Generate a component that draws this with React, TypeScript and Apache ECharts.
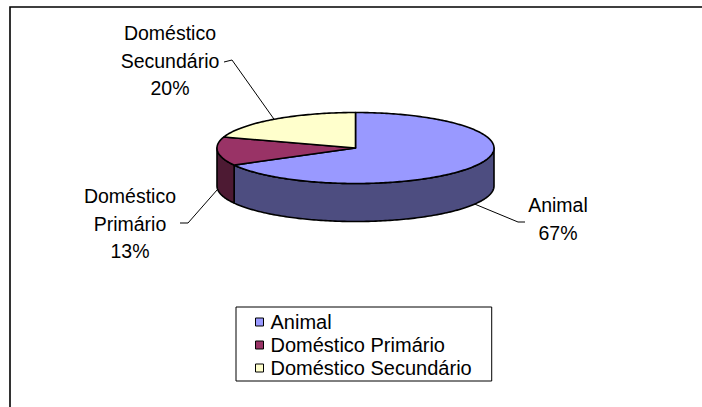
import React, { useEffect, useRef } from "react";
import * as echarts from "echarts";

const categories = ["Animal", "Doméstico Primário", "Doméstico Secundário"];
const values = [67, 13, 20];
const topColors = ["#9999FF", "#993366", "#FFFFCC"];
const sideColors = ["#4D4D80", "#4D1A33", "#80806A"];

const FONT = "'Liberation Sans', Arial, Helvetica, sans-serif";

// pie geometry (layout)
const PIE = { cx: 355.5, cy: 148, rx: 138.5, ry: 35.5, depth: 38 };

// label layouts (layout only)
const LABEL_LAYOUT = [
  { x: 558, y: 205, path: [[518, 222], [525, 222]] },
  { x: 130, y: 196, path: [[188, 223], [180, 223]] },
  { x: 170, y: 33, path: [[232, 60], [224, 62]] },
];

const total = values.reduce((a, b) => a + b, 0);

function pt(tDeg: number, dy = 0): number[] {
  const t = (tDeg * Math.PI) / 180;
  return [PIE.cx + PIE.rx * Math.sin(t), PIE.cy - PIE.ry * Math.cos(t) + dy];
}

function arcPts(a: number, b: number, dy = 0): number[][] {
  const out: number[][] = [];
  const n = Math.max(2, Math.ceil(Math.abs(b - a)));
  for (let i = 0; i <= n; i++) out.push(pt(a + ((b - a) * i) / n, dy));
  return out;
}

function makeRender(idx: number) {
  return (params: any, api: any) => {
    const v = api.value(0);
    let start = 0;
    for (let i = 0; i < idx; i++) start += values[i];
    const a = (start / total) * 360;
    const b = ((start + v) / total) * 360;
    const children: any[] = [];
    // wall (front-facing part)
    const wa = Math.max(a, 90);
    const wb = Math.min(b, 270);
    if (wb > wa) {
      const pts = arcPts(wa, wb).concat(arcPts(wb, wa, PIE.depth));
      children.push({
        type: "polygon",
        shape: { points: pts },
        style: { fill: sideColors[idx], stroke: "#000", lineWidth: 1.6, lineJoin: "round" },
      });
    }
    // top face
    children.push({
      type: "polygon",
      shape: { points: [[PIE.cx, PIE.cy]].concat(arcPts(a, b)) },
      style: { fill: topColors[idx], stroke: "#000", lineWidth: 1.6, lineJoin: "round" },
    });
    // leader line
    const mid = (a + b) / 2;
    const front = mid > 90 && mid < 270;
    const anchor = pt(mid, front ? PIE.depth : 0);
    const lay = LABEL_LAYOUT[idx];
    children.push({
      type: "polyline",
      shape: { points: [anchor].concat(lay.path) },
      style: { stroke: "#000", lineWidth: 1, fill: null },
    });
    const pct = Math.round((v / total) * 100) + "%";
    const lines = categories[idx].split(" ").concat([pct]).join("\n");
    children.push({
      type: "text",
      style: {
        text: lines,
        x: lay.x,
        y: lay.y - 13.75,
        align: "center",
        verticalAlign: "top",
        lineHeight: 27.5,
        fontSize: 19.5,
        fontFamily: FONT,
        fill: "#000",
      },
    });
    return { type: "group", children };
  };
}

export default function App() {
  const ref = useRef<HTMLDivElement>(null);
  useEffect(() => {
    document.body.style.margin = "0";
    document.body.style.overflow = "hidden";
    const chart = echarts.init(ref.current!, undefined, { renderer: "svg" });
    chart.setOption({
      animation: false,
      backgroundColor: "#fff",
      graphic: [
        {
          type: "rect",
          shape: { x: 10, y: 7, width: 720, height: 430 },
          style: { fill: "none", stroke: "#000", lineWidth: 1.6 },
          z: 0,
        },
      ],
      legend: {
        orient: "vertical",
        left: 236,
        top: 307,
        padding: [4, 20, 2, 19],
        itemGap: 1,
        itemWidth: 8,
        itemHeight: 8,
        borderColor: "#000",
        borderWidth: 1,
        selectedMode: false,
        textStyle: {
          fontSize: 20,
          fontFamily: FONT,
          color: "#000",
          lineHeight: 22,
          padding: [0, 0, 0, 2],
        },
        data: categories.map((c, i) => ({
          name: c,
          icon: "rect",
          itemStyle: { color: topColors[i], borderColor: "#000", borderWidth: 1 },
        })),
      },
      series: categories.map((c, i) => ({
        type: "custom",
        name: c,
        coordinateSystem: "none",
        itemStyle: { color: topColors[i] },
        data: [[values[i]]],
        renderItem: makeRender(i),
        silent: true,
      })),
    });
    return () => chart.dispose();
  }, []);
  return <div ref={ref} style={{ width: 702, height: 407 }} />;
}
